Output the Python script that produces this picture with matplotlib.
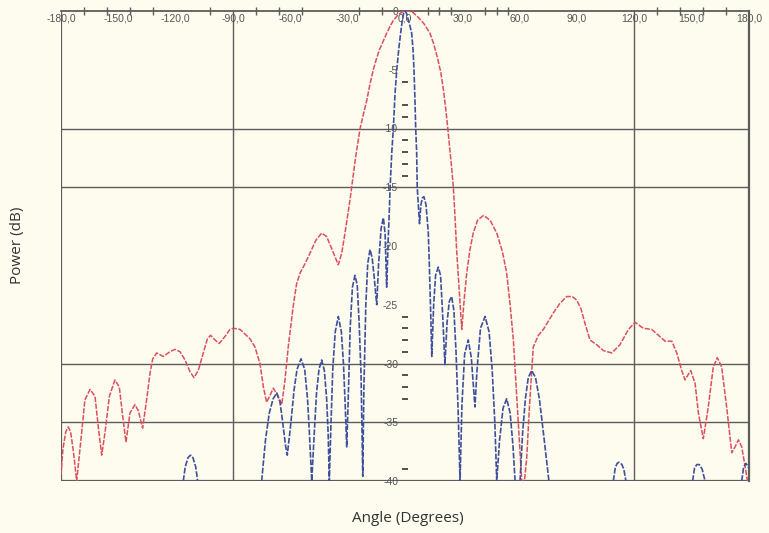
import numpy as np
import matplotlib
matplotlib.use("Agg")
import matplotlib.pyplot as plt
from matplotlib.ticker import FixedLocator, NullFormatter

# ---------------- data (angle in degrees, power in dB) ----------------
red_angle = [-180, -179, -177.5, -176.2, -175, -173.5, -171.8,
             -169.2, -167.5, -164.8, -162.2, -160.5, -158.7,
             -157, -154.7, -151.8, -149.5, -147.7, -146,
             -143.9, -141.3, -139.6, -137.3,
             -135.2, -133.4, -132, -129.9, -126.5, -123, -120.4, -117.7, -115.1, -112.5, -110.4,
             -108.2, -105.5, -103.4, -101.7, -99.4, -97.2, -94.2, -91.6, -89.8,
             -86.3, -81.1, -78.5, -75.9, -74.1, -72.4, -70.6, -68.9, -66.8, -64.5,
             -62.8, -61.1, -58.4, -56.7, -54.9, -52.3, -49.7, -46.6, -43.6, -41, -38.4, -34.9,
             -33.1, -31.4, -28.8, -27.9, -25.8, -23.5, -21.8, -20.0, -18.3, -16.6, -15.0, -13.4,
             -11.5, -9.6, -7.8, -6.1, -3.5, -1, 1.5, 4, 7, 10, 13.1, 15.0, 17.0, 18.7,
             20.1, 21.3, 22.4, 23.5, 24.5, 25.3, 26.2, 27.0, 28.5, 29.7,
             31, 32.3, 34.0, 35.7, 38, 41.0, 44.5, 48.0, 51, 53.2, 55, 56.7, 58, 59.3, 61.1,
             62.5, 63.7, 65, 67.1, 69.8, 72.4, 77.6, 81.0, 84.6, 87.5, 89.8, 92.0, 94.2, 96.8,
             100.3, 103.8, 108.2, 112.5, 116.9, 120.4, 124.7, 129.1, 132.6, 136.1, 139.6,
             142.2, 144.8, 146.5, 149.5, 151.8, 153.5, 156.1, 158.7, 161.3, 163.4, 165.7,
             168.3, 171, 172.7, 174.5, 176.2, 178, 179.2]
red_power = [-39.5, -37.3, -35.8, -35.4, -35.8, -37.5, -40,
             -35.9, -33.1, -32.2, -32.8, -35.4, -37.8,
             -35.9, -32.8, -31.4, -32.0, -34.5, -36.7,
             -34.2, -33.5, -34.0, -35.5,
             -33.1, -30.8, -29.6, -29.1, -29.4, -29.0, -28.8, -29.0, -29.7, -30.7, -31.2,
             -30.6, -29.1, -27.9, -27.6, -28.0, -28.3, -27.7, -27.1, -27.0,
             -27.1, -27.9, -28.6, -30.0, -32.0, -33.3, -32.7, -32.1, -32.7, -33.5,
             -31.4, -28.6, -25.0, -23.2, -22.3, -21.5, -20.6, -19.5, -18.9, -19.2, -20.2, -21.6,
             -20.6, -18.9, -16.1, -15.0, -12.4, -10.0, -8.8, -7.6, -6.2, -5.0, -4.1, -3.3,
             -2.6, -1.9, -1.3, -0.8, -0.3, -0.05, 0.0, -0.1, -0.55, -1.1, -1.9, -2.8, -4.0, -5.2,
             -6.7, -8.3, -10.0, -11.8, -13.5, -15.0, -17.6, -20.3, -24.0, -27.1,
             -24.5, -22.3, -20.3, -18.9, -17.8, -17.4, -17.8, -18.9, -20.5, -22.3, -25.0, -28.0, -31.5, -35.1, -40,
             -40, -38, -34, -28.6, -27.6, -27.1, -25.7, -24.9, -24.3, -24.3, -24.6, -25.3, -26.6, -28.0,
             -28.4, -28.9, -29.1, -28.4, -27.1, -26.5, -27.0, -27.1, -27.6, -28.1, -28.1,
             -29.1, -30.6, -31.4, -30.6, -31.7, -34.2, -36.4, -33.7, -30.3, -29.5, -30.3,
             -33.7, -37.6, -37.1, -36.5, -37.1, -38.8, -40]

nan = float("nan")
blue_angle = [-116, -115, -113.5, -112.2, -111, -109.5, -108.5, nan,
              -75.0, -73, -71, -69, -67.1, -65.5, -64, -62.5, -61.6,
              -60, -58, -56.5, -54.4, -52.5, -51, -50, -48.8,
              -47.5, -46.3, -45, -43.6, -42.2, -41, -40.2, -39.6,
              -38.8, -37.8, -36.5, -34.9, -33.3, -32.2, -31.3, -30.5,
              -29.7, -28.7, -27.5, -26.2, -25, -24, -23, -22.1,
              -21.5, -20.5, -19.5, -18.3, -17.2, -16.2, -14.8,
              -13.8, -12.5, -11.3, -10.4, -9.6,
              -8.8, -8.2, -7.8, -6.9, -6.1, -5.2, -4.3, -3.3, -2.3, -1.5, -0.7, 0, 0.8, 1.6, 2.5, 3.5,
              4.2, 4.7, 5.2, 5.6, 6.1, 6.4, 7.0, 7.6,
              8.3, 9.1, 9.9, 11, 12.2, 12.8, 13.5, 14.0,
              15, 16, 17.4, 18.6, 19.6, 20.9,
              22, 23.2, 24.4, 25.6, 26.7, 27.8, 28.8,
              29.8, 31.2, 33.1, 34.7, 35.8, 36.6,
              37.7, 39.5, 41.9, 44, 45.6, 47, 48.0,
              49.5, 51.3, 53.2, 55, 56.5, 57.6, nan,
              60.2, 61.5, 63, 64.5, 66.3, 68.3, 70.3, 72.5, 75.3, nan,
              109, 110, 111, 112, 113.5, 114.5, 115.6, nan,
              150.5, 151.5, 152.7, 154, 155.5, 157, nan,
              176.2, 177.2, 178.4, 180]
blue_power = [-40, -38.8, -38.0, -37.8, -38.0, -38.8, -40, nan,
              -40, -36.5, -34.2, -33, -32.5, -33.2, -35, -37, -37.8,
              -35.5, -32.2, -30.5, -29.6, -30.5, -33, -36, -40,
              -36, -32.5, -30.5, -29.7, -30.6, -33, -36, -40,
              -35.5, -30.5, -27.3, -26.0, -27.3, -30, -33.5, -37.1,
              -33, -27, -23.5, -22.5, -23.3, -26.5, -31, -39.6,
              -32, -25, -21.5, -20.3, -21, -22.5, -25.0,
              -21.5, -18.5, -17.6, -19, -23.5,
              -19.5, -17, -15, -12, -10, -7, -5, -3.3, -1.9, -0.9, -0.2, 0, -0.2, -0.7, -1.2, -1.9,
              -3.3, -5, -7.5, -10, -12, -15, -16.5, -18.1,
              -16.5, -15.9, -15.8, -16.5, -18.9, -22, -26, -29.4,
              -25, -22.5, -21.8, -22.5, -25.5, -30.1,
              -26.5, -24.7, -24.3, -25.5, -29, -34, -40,
              -33.5, -29.2, -28.0, -29.5, -32, -33.7,
              -30.5, -27, -26.0, -27.3, -30.5, -35, -40,
              -36.5, -33.8, -33.0, -34.2, -37, -40, nan,
              -40, -36, -33, -31.2, -30.6, -31.2, -33, -36, -40, nan,
              -40, -38.9, -38.5, -38.4, -38.6, -39, -40, nan,
              -40, -38.9, -38.6, -38.6, -39, -40, nan,
              -40, -38.8, -38.5, -38.9]

x_label_ticks = [-180, -150, -120, -90, -60, -30, 0, 30, 60, 90, 120, 150, 180]
x_minor_ticks = [-180, -168, -156, -144, -132, -102, -90, -78, -66, -54, -24, -12,
                 12, 18, 24, 42, 48, 54, 90, 120, 132, 144, 156, 168, 180]
y_label_ticks = [0, -5, -10, -15, -20, -25, -30, -35, -40]
y_minor_ticks = [-6, -8, -9, -11, -12, -13, -14, -26, -27, -28, -29, -31, -32, -33, -39]
grid_y = [-10, -15, -30, -35]
grid_x = [-90, 120]

# ---------------- styling ----------------
BG = "#fdfcef"
RED = "#dc4f5d"
BLUE = "#3f4f9c"
GRID = "#5c5c5c"

fig = plt.figure(figsize=(7.69, 5.33), dpi=100, facecolor=BG)
ax = fig.add_axes([61 / 769, 1 - 481 / 533, 688 / 769, 470 / 533])
ax.set_facecolor(BG)
ax.set_xlim(-180, 180)
ax.set_ylim(-40, 0)

# grid / frame lines
for gy in grid_y:
    ax.axhline(gy, color=GRID, lw=1.0, zorder=1)
for gx in grid_x:
    ax.axvline(gx, color=GRID, lw=1.0, zorder=1)
ax.axhline(-40, color=GRID, lw=1.6, zorder=1)
ax.axvline(-180, color=GRID, lw=1.6, zorder=1)

# spines: x-axis line at power 0 (top), y ticks along angle 0
ax.spines["top"].set_visible(False)
ax.spines["bottom"].set_position(("data", 0))
ax.spines["bottom"].set_color(GRID)
ax.spines["bottom"].set_linewidth(1.3)
ax.spines["right"].set_color(GRID)
ax.spines["right"].set_linewidth(1.6)
ax.spines["left"].set_position(("data", 0))
ax.spines["left"].set_color("none")

ax.xaxis.set_major_locator(FixedLocator(x_label_ticks))
ax.xaxis.set_minor_locator(FixedLocator(x_minor_ticks))
ax.set_xticklabels([f"{v:.1f}".replace(".", ",") for v in x_label_ticks])
ax.yaxis.set_major_locator(FixedLocator(y_label_ticks))
ax.yaxis.set_minor_locator(FixedLocator(y_minor_ticks))
ax.set_yticklabels([f"{v:d}" for v in y_label_ticks])
ax.xaxis.set_minor_formatter(NullFormatter())
ax.yaxis.set_minor_formatter(NullFormatter())

ax.tick_params(axis="x", which="major", length=0, pad=2, labelsize=7.5,
               labelcolor="#555555")
ax.tick_params(axis="x", which="minor", length=6, direction="inout",
               color=GRID, width=1.0)
ax.tick_params(axis="y", which="major", length=0, pad=5, labelsize=7.5,
               labelcolor="#555555")
ax.tick_params(axis="y", which="minor", length=5, direction="inout",
               color="#333333", width=1.2)
for lab in ax.get_xticklabels() + ax.get_yticklabels():
    lab.set_family("Liberation Sans")

# curves
ls = (0, (3.5, 1.0))
ax.plot(red_angle, red_power, color=RED, lw=1.1, linestyle=ls, zorder=3,
        clip_on=True)
ax.plot(blue_angle, blue_power, color=BLUE, lw=1.2, linestyle=ls, zorder=4,
        clip_on=True)

fig.text(18 / 769, 1 - 245 / 533, "Power (dB)", rotation=90, ha="center",
         va="center", fontsize=11, family="Open Sans", color="#333333")
fig.text(408 / 769, 1 - 518 / 533, "Angle (Degrees)", ha="center",
         va="center", fontsize=11, family="Open Sans", color="#333333")

fig.savefig("out.png", dpi=100, facecolor=BG)
